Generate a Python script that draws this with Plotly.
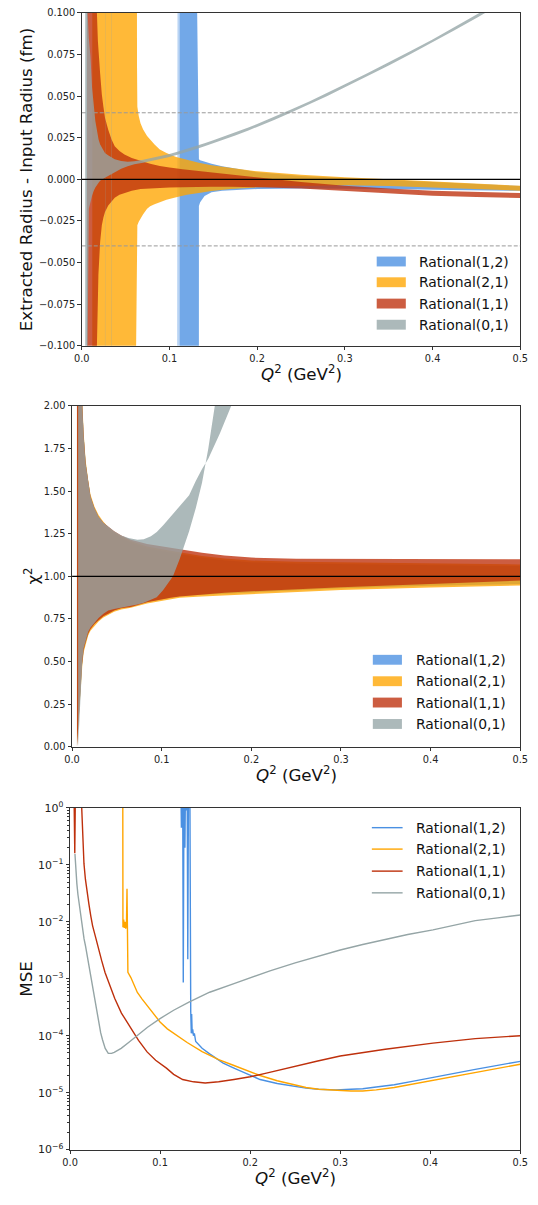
import plotly.graph_objects as go

W, H = 538, 1205
FONT = "DejaVu Sans"

# ---------------------------------------------------------------- colours
C_12 = "#4A90E2"   # Rational(1,2)
C_21 = "#FFA500"   # Rational(2,1)
C_11 = "#BE300C"   # Rational(1,1)
C_01 = "#95A5A6"   # Rational(0,1)
ALPHA = 0.78
labels = ["Rational(1,2)", "Rational(2,1)", "Rational(1,1)", "Rational(0,1)"]
colors = [C_12, C_21, C_11, C_01]

# ------------------------------------------- radius bands (fm), vs Q^2 cut
# +-1 marks a band that runs off the plotted range; None splits segments
r12_q = [0.1084, 0.1103, None,
         0.1113, 0.1335, 0.1336, 0.135, 0.14, 0.148, 0.16, 0.18, 0.20, 0.25, 0.30, 0.35,
         0.40, 0.45, 0.50]
r12_hi = [1, 1, None,
          1, 1, 0.012, 0.0115, 0.0105, 0.0093, 0.0078, 0.006, 0.0043, 0.002, 0.0007, -0.0005,
          -0.0015, -0.0028, -0.004]
r12_lo = [-1, -1, None,
          -1, -1, -0.016, -0.0138, -0.010, -0.0078, -0.0068, -0.0061, -0.0058, -0.0055, -0.0055,
          -0.0058, -0.0062, -0.0066, -0.0069]

r21_q = [0.012, 0.0616, 0.0620, 0.0627, 0.0630, 0.0634, 0.065, 0.067, 0.070, 0.0745, 0.078,
         0.083, 0.089, 0.0966, 0.1077, 0.12, 0.1335, 0.148, 0.17, 0.20, 0.25, 0.30, 0.35,
         0.40, 0.45, 0.50]
r21_hi = [1, 1, 1, 1, 0.07, 0.0436, 0.038, 0.0337, 0.030, 0.026, 0.0239,
          0.021, 0.018, 0.0159, 0.0135, 0.0117, 0.010, 0.0085, 0.0068, 0.0048, 0.0027, 0.0012,
          0.0, -0.0012, -0.0025, -0.0039]
r21_lo = [-1, -1, -0.1, -0.04, -0.032, -0.0276, -0.0255, -0.0236, -0.021, -0.0177, -0.0162,
          -0.015, -0.0138, -0.0123, -0.0108, -0.0093, -0.0082, -0.0070, -0.0058, -0.0048,
          -0.0040, -0.0036, -0.0040, -0.0049, -0.0058, -0.0068]

r11_q = [0.0060, 0.0172, 0.0173, 0.0184, 0.0190, 0.0210, 0.0229, 0.0247, 0.0265, 0.0302,
         0.034, 0.0376, 0.043, 0.0487, 0.057, 0.0671, 0.078, 0.089, 0.10, 0.115, 0.13, 0.148,
         0.17, 0.20, 0.25, 0.30, 0.35, 0.40, 0.45, 0.50]
r11_hi = [1, 1, 0.1, 0.0832, 0.077, 0.0634, 0.051, 0.0436, 0.037, 0.0298,
          0.024, 0.0199, 0.017, 0.015, 0.0128, 0.011, 0.0094, 0.008, 0.0071, 0.006, 0.005,
          0.004, 0.0027, 0.0012, -0.0016, -0.0039, -0.0055, -0.0068, -0.0076, -0.0082]
r11_lo = [-1, -1, -0.1, -0.077, -0.0573, -0.0375, -0.0276, -0.023, -0.0197, -0.0157,
          -0.013, -0.011, -0.0093, -0.0082, -0.0068, -0.0058, -0.0054, -0.0051, -0.0049,
          -0.0047, -0.0045, -0.0044, -0.0045, -0.0047, -0.0055, -0.0068, -0.0083, -0.0098,
          -0.0106, -0.0112]

r01_q = [0.0262, 0.0268, None, 0.0338, 0.0345, None,
         0.0040, 0.0066, 0.0067, 0.0081, 0.0100, 0.0118, 0.0136, 0.0155, 0.0192, 0.021,
         0.0265, 0.030, 0.0376, 0.045, 0.0524, 0.06, 0.07, 0.08, 0.09, 0.10, 0.11, 0.12,
         0.13, 0.14, 0.15, 0.16, 0.175, 0.19, 0.20, 0.22, 0.24, 0.26, 0.28, 0.30, 0.325,
         0.35, 0.375, 0.40, 0.425, 0.452, 0.475, 0.50]
r01_hi = [1, 1, None, 1, 1, None,
          1, 1, 0.1, 0.085, 0.0733, 0.055, 0.0436, 0.035, 0.0239, 0.021,
          0.0159, 0.0145, 0.012, 0.0110, 0.0105, 0.0108, 0.0117, 0.0128, 0.0140, 0.0153,
          0.0167, 0.0182, 0.0199, 0.0217, 0.0235, 0.0254, 0.0282, 0.0312, 0.0332, 0.0376,
          0.0422, 0.0469, 0.0519, 0.0571, 0.0636, 0.0702, 0.0771, 0.0841, 0.0914, 0.0994,
          0.1064, 0.1139]
r01_lo = [-1, -1, None, -1, -1, None,
          -1, -1, -0.1, -0.0177, -0.013, -0.0098, -0.007, -0.0049, -0.002, -0.0009,
          0.001, 0.002, 0.0045, 0.0064, 0.0078, 0.0090, 0.0099, 0.0110, 0.0122, 0.0135,
          0.0149, 0.0164, 0.0181, 0.0199, 0.0217, 0.0236, 0.0264, 0.0294, 0.0314, 0.0358,
          0.0404, 0.0451, 0.0501, 0.0553, 0.0618, 0.0684, 0.0753, 0.0823, 0.0896, 0.0976,
          0.1046, 0.1121]

# ------------------------------------------------------- chi^2 bands
c11_q = [0.0055, 0.0070, 0.0085, 0.0112, 0.0115, 0.013, 0.0152, 0.018, 0.0206, 0.025,
         0.0296, 0.035, 0.0404, 0.047, 0.0549, 0.0657, 0.0837, 0.0945, 0.11, 0.12, 0.145,
         0.17, 0.20, 0.25, 0.30, 0.40, 0.50]
c11_hi = [3, 3, 3, 3, 1.99, 1.82, 1.66, 1.55, 1.467, 1.40,
          1.35, 1.315, 1.29, 1.265, 1.24, 1.215, 1.19, 1.182, 1.168, 1.16, 1.138,
          1.122, 1.11, 1.103, 1.10, 1.10, 1.10]
c11_lo = [0, 0.15, 0.30, 0.49, 0.50, 0.57, 0.615, 0.665, 0.69, 0.72,
          0.742, 0.765, 0.78, 0.80, 0.812, 0.82, 0.848, 0.86, 0.875, 0.882, 0.894,
          0.903, 0.912, 0.925, 0.936, 0.955, 0.975]

c21_q = c11_q
c21_hi = [3, 3, 3, 3, 2.02, 1.84, 1.68, 1.565, 1.48, 1.41,
          1.36, 1.32, 1.29, 1.262, 1.235, 1.208, 1.175, 1.165, 1.15, 1.14, 1.12,
          1.105, 1.093, 1.085, 1.08, 1.075, 1.07]
c21_lo = [0, 0.13, 0.28, 0.47, 0.48, 0.555, 0.60, 0.652, 0.68, 0.71,
          0.735, 0.758, 0.772, 0.792, 0.805, 0.815, 0.84, 0.85, 0.865, 0.875, 0.882,
          0.888, 0.895, 0.908, 0.92, 0.935, 0.946]

c12_q = c11_q
c12_hi = [3, 3, 3, 3, 2.0, 1.83, 1.67, 1.555, 1.47, 1.40,
          1.35, 1.31, 1.28, 1.252, 1.225, 1.198, 1.165, 1.155, 1.14, 1.13, 1.11,
          1.095, 1.083, 1.075, 1.07, 1.065, 1.06]
c12_lo = [0, 0.14, 0.29, 0.48, 0.49, 0.565, 0.61, 0.66, 0.70, 0.72,
          0.745, 0.768, 0.782, 0.80, 0.815, 0.825, 0.85, 0.86, 0.875, 0.885, 0.892,
          0.898, 0.905, 0.918, 0.93, 0.945, 0.955]

c01_q = [0.0068, 0.0097, 0.0115, 0.013, 0.0152, 0.018, 0.0206, 0.025, 0.0296, 0.035,
         0.0404, 0.047, 0.0549, 0.063, 0.0729, 0.08, 0.088, 0.0945, 0.1017, 0.1126, 0.12,
         0.1306, 0.138, 0.145, 0.152, 0.159, 0.165, 0.1775, 0.19]
c01_hi = [3, 3, 1.99, 1.82, 1.66, 1.55, 1.467, 1.40, 1.35, 1.315,
          1.29, 1.265, 1.24, 1.225, 1.215, 1.218, 1.235, 1.26, 1.30, 1.37, 1.41,
          1.476, 1.56, 1.63, 1.69, 1.77, 1.84, 2.0, 2.3]
c01_lo = [0, 0.316, 0.51, 0.58, 0.626, 0.675, 0.70, 0.73, 0.755, 0.78,
          0.80, 0.808, 0.815, 0.825, 0.835, 0.845, 0.862, 0.877, 0.92, 1.0, 1.1,
          1.264, 1.4, 1.55, 1.75, 2.0, 2.2, 2.4, 2.6]

# ------------------------------------------------------------ MSE curves
m12_q = [0.1230, 0.1236, 0.1242, 0.1250, 0.1257, 0.1265, 0.1275, 0.1282, 0.1290, 0.1300,
         0.1307, 0.1315, 0.1330, 0.1340, 0.1346, 0.1350, 0.1356, 0.1362, 0.1370, 0.1380,
         0.1395, 0.1466, 0.155, 0.161, 0.17, 0.182, 0.20, 0.211, 0.23, 0.247, 0.262, 0.276,
         0.295, 0.312, 0.325, 0.34, 0.36, 0.38, 0.403, 0.45, 0.5]
m12_v = [3, 0.45, 3, 3, 8.6e-4, 3, 0.2, 3, 0.9, 3,
         2.2e-3, 3, 3, 2.6e-4, 1.1e-4, 2.4e-4, 1.1e-4, 1.3e-4, 1.0e-4, 1.1e-4,
         7.9e-5, 6.0e-5, 4.8e-5, 4.1e-5, 3.3e-5, 2.7e-5, 2.0e-5, 1.7e-5, 1.45e-5, 1.32e-5,
         1.2e-5, 1.15e-5, 1.12e-5, 1.15e-5, 1.17e-5, 1.26e-5, 1.38e-5, 1.58e-5, 1.86e-5,
         2.57e-5, 3.55e-5]

m21_q = [0.0585, 0.0587, 0.0595, 0.0603, 0.0610, 0.0618, 0.0626, 0.0632, 0.0636, 0.0642,
         0.0675, 0.071, 0.0747, 0.08, 0.0855, 0.092, 0.0999, 0.108, 0.1178, 0.13, 0.1466,
         0.165, 0.182, 0.20, 0.211, 0.23, 0.247, 0.262, 0.276, 0.295, 0.312, 0.325, 0.34,
         0.36, 0.38, 0.403, 0.45, 0.5]
m21_v = [3, 8e-3, 1.1e-2, 7.8e-3, 1.0e-2, 7.6e-3, 9e-3, 0.038, 7e-3, 1.3e-3,
         1.05e-3, 7.6e-4, 5.75e-4, 4.4e-4, 3.4e-4, 2.5e-4, 1.74e-4, 1.32e-4, 1.02e-4, 7.6e-5,
         5.25e-5, 3.8e-5, 3.0e-5, 2.35e-5, 2.0e-5, 1.62e-5, 1.38e-5, 1.23e-5, 1.15e-5, 1.1e-5,
         1.07e-5, 1.07e-5, 1.12e-5, 1.23e-5, 1.41e-5, 1.66e-5, 2.3e-5, 3.16e-5]

m11_q = [0.0042, 0.0052, 0.0060, 0.0125, 0.0129, 0.014, 0.0154, 0.017, 0.0185, 0.0208,
         0.023, 0.025, 0.028, 0.031, 0.035, 0.0388, 0.044, 0.0496, 0.057, 0.0675, 0.076,
         0.0855, 0.095, 0.107, 0.115, 0.125, 0.137, 0.150, 0.165, 0.182, 0.20, 0.218, 0.25,
         0.275, 0.3, 0.35, 0.403, 0.45, 0.5]
m11_v = [3, 0.16, 3, 3, 1.0, 0.282, 0.105, 0.056, 0.034, 0.0209,
         0.0126, 8.5e-3, 5.6e-3, 3.5e-3, 2.1e-3, 1.29e-3, 7.6e-4, 4.5e-4, 2.5e-4, 1.35e-4,
         8.3e-5, 5.2e-5, 3.7e-5, 2.7e-5, 2.1e-5, 1.7e-5, 1.55e-5, 1.48e-5, 1.55e-5, 1.7e-5,
         1.9e-5, 2.2e-5, 2.95e-5, 3.6e-5, 4.4e-5, 5.8e-5, 7.4e-5, 8.9e-5, 1.0e-4]

m01_q = [0.0054, 0.0065, 0.0075, 0.0087, 0.010, 0.0115, 0.0135, 0.0155, 0.0172, 0.019,
         0.0205, 0.0225, 0.0244, 0.026, 0.028, 0.030, 0.0316, 0.034, 0.036, 0.039, 0.0424,
         0.046, 0.049, 0.053, 0.0567, 0.065, 0.0747, 0.086, 0.0999, 0.115, 0.132, 0.155,
         0.182, 0.20, 0.222, 0.25, 0.275, 0.3, 0.325, 0.35, 0.375, 0.403, 0.425, 0.45,
         0.475, 0.5]
m01_v = [0.155, 0.0708, 0.0468, 0.0302, 0.0209, 0.0135, 7.6e-3, 5.0e-3, 3.7e-3, 2.5e-3,
         1.82e-3, 1.26e-3, 8.7e-4, 6.3e-4, 3.7e-4, 2.4e-4, 1.74e-4, 1.12e-4, 8.5e-5, 6.0e-5,
         4.9e-5, 4.9e-5, 5.1e-5, 5.5e-5, 6.0e-5, 7.6e-5, 1.02e-4, 1.41e-4, 2.0e-4, 2.8e-4,
         3.9e-4, 5.8e-4, 8.2e-4, 1.05e-3, 1.38e-3, 1.9e-3, 2.5e-3, 3.2e-3, 4.0e-3, 4.9e-3,
         6.0e-3, 7.2e-3, 8.7e-3, 1.05e-2, 1.17e-2, 1.32e-2]

# ------------------------------------------------------------ ticks
x_ticks = [0.0, 0.1, 0.2, 0.3, 0.4, 0.5]
r_ticks = [-0.1, -0.075, -0.05, -0.025, 0.0, 0.025, 0.05, 0.075, 0.1]
c_ticks = [0.0, 0.25, 0.5, 0.75, 1.0, 1.25, 1.5, 1.75, 2.0]
m_exps = [-6, -5, -4, -3, -2, -1, 0]


def rgba(hex_color, a):
    h = hex_color.lstrip("#")
    r, g, b = int(h[0:2], 16), int(h[2:4], 16), int(h[4:6], 16)
    return f"rgba({r},{g},{b},{a})"


def band_polygon(q, lo, hi):
    """Closed outline(s) lo -> hi for a band; None splits separate pieces."""
    xs, ys = [], []
    seg = []
    for item in list(zip(q, lo, hi)) + [(None, None, None)]:
        if item[0] is None:
            if seg:
                sq = [s[0] for s in seg]
                sl = [s[1] for s in seg]
                sh = [s[2] for s in seg]
                if xs:
                    xs.append(None)
                    ys.append(None)
                xs += sq + sq[::-1]
                ys += sl + sh[::-1]
            seg = []
        else:
            seg.append(item)
    return xs, ys


def px_x(px):
    return px / W


def px_y(py):
    return 1 - py / H


fig = go.Figure()

radius_bands = [(r12_q, r12_lo, r12_hi), (r21_q, r21_lo, r21_hi),
                (r11_q, r11_lo, r11_hi), (r01_q, r01_lo, r01_hi)]
chi_bands = [(c12_q, c12_lo, c12_hi), (c21_q, c21_lo, c21_hi),
             (c11_q, c11_lo, c11_hi), (c01_q, c01_lo, c01_hi)]
mse_lines = [(m12_q, m12_v), (m21_q, m21_v), (m11_q, m11_v), (m01_q, m01_v)]

for (q, lo, hi), col in zip(radius_bands, colors):
    xs, ys = band_polygon(q, lo, hi)
    fig.add_trace(go.Scatter(x=xs, y=ys, mode="lines", fill="toself",
                             fillcolor=rgba(col, ALPHA), line=dict(width=0),
                             hoverinfo="skip", showlegend=False, xaxis="x", yaxis="y"))

for (q, lo, hi), col in zip(chi_bands, colors):
    xs, ys = band_polygon(q, lo, hi)
    fig.add_trace(go.Scatter(x=xs, y=ys, mode="lines", fill="toself",
                             fillcolor=rgba(col, ALPHA), line=dict(width=0),
                             hoverinfo="skip", showlegend=False, xaxis="x2", yaxis="y2"))

for (q, v), col in zip(mse_lines, colors):
    fig.add_trace(go.Scatter(x=q, y=v, mode="lines", line=dict(color=col, width=1.4),
                             hoverinfo="skip", showlegend=False, xaxis="x3", yaxis="y3"))

# subplot boxes in pixels: (left, right, top, bottom)
boxes = [(76, 528, 5, 342), (66, 528, 403, 748), (64, 528, 810, 1156)]

axis_common = dict(showline=True, linecolor="#333", linewidth=1, mirror=True,
                   ticks="outside", ticklen=3.5, tickwidth=1, tickcolor="#333",
                   showgrid=False, zeroline=False,
                   tickfont=dict(family=FONT, size=9.8, color="#222"))

layout_axes = {}
for i, (l, r, t, b) in enumerate(boxes):
    sfx = "" if i == 0 else str(i + 1)
    layout_axes["xaxis" + sfx] = dict(
        axis_common, domain=[px_x(l), px_x(r)], range=[0, 0.5],
        tickvals=x_ticks, tickformat=".1f", anchor="y" + sfx)
    layout_axes["yaxis" + sfx] = dict(
        axis_common, domain=[px_y(b), px_y(t)], anchor="x" + sfx)

layout_axes["yaxis"].update(range=[-0.1, 0.1], tickvals=r_ticks, tickformat=".3f")
layout_axes["yaxis2"].update(range=[0, 2], tickvals=c_ticks, tickformat=".2f")
minor_vals = [k * 10.0 ** e for e in m_exps[:-1] for k in range(2, 10)]
layout_axes["yaxis3"].update(
    type="log", range=[-6, 0],
    tickvals=[10.0 ** e for e in m_exps],
    ticktext=[f"10<sup>{'−' if e < 0 else ''}{abs(e)}</sup>" for e in m_exps],
    tickfont=dict(family=FONT, size=11, color="#222"),
    minor=dict(ticks="outside", ticklen=2, tickcolor="#333", tickvals=minor_vals))

fig.update_layout(
    width=W, height=H, margin=dict(l=0, r=0, t=0, b=0),
    paper_bgcolor="white", plot_bgcolor="white",
    font=dict(family=FONT, color="#222"),
    **layout_axes,
)

# reference lines
fig.add_shape(type="line", xref="x", yref="y", x0=0, x1=0.5, y0=0, y1=0,
              line=dict(color="black", width=1.1))
for yv in (0.04, -0.04):
    fig.add_shape(type="line", xref="x", yref="y", x0=0, x1=0.5, y0=yv, y1=yv,
                  line=dict(color="#999", width=1, dash="4px,2px"))
fig.add_shape(type="line", xref="x2", yref="y2", x0=0, x1=0.5, y0=1, y1=1,
              line=dict(color="black", width=1.1))

# axis titles
TITLE = dict(family=FONT, size=16.7, color="#111")
xlab = "<i>Q</i><sup>2</sup> (GeV<sup>2</sup>)"
for (l, r, t, b) in boxes:
    fig.add_annotation(xref="paper", yref="paper", x=px_x((l + r) / 2), y=px_y(b + 28),
                       text=xlab, showarrow=False, font=TITLE,
                       xanchor="center", yanchor="middle")
ylabs = [("Extracted Radius - Input Radius (fm)", 18.5), ("χ<sup>2</sup>", 25), ("MSE", 18.5)]
for (txt, cx), (l, r, t, b) in zip(ylabs, boxes):
    fig.add_annotation(xref="paper", yref="paper", x=px_x(cx), y=px_y((t + b) / 2),
                       text=txt, textangle=-90, showarrow=False, font=TITLE,
                       xanchor="center", yanchor="middle")

# legends
LEG = dict(family=FONT, size=13.9, color="#111")
legend_specs = [
    ("patch", 380, 410, 421.7, [256.7, 277.7, 299.3, 320.7]),
    ("patch", 376, 406, 418, [660, 681.7, 703.3, 725]),
    ("line", 375, 406.7, 418, [830, 851.7, 874, 896]),
]
for kind, x0, x1, tx, rows in legend_specs:
    for lab, col, ry in zip(labels, colors, rows):
        if kind == "patch":
            fig.add_shape(type="rect", xref="paper", yref="paper",
                          x0=px_x(x0), x1=px_x(x1), y0=px_y(ry + 5), y1=px_y(ry - 5),
                          fillcolor=rgba(col, ALPHA), line=dict(width=0))
        else:
            fig.add_shape(type="line", xref="paper", yref="paper",
                          x0=px_x(x0), x1=px_x(x1), y0=px_y(ry), y1=px_y(ry),
                          line=dict(color=col, width=1.4))
        fig.add_annotation(xref="paper", yref="paper", x=px_x(tx), y=px_y(ry),
                           text=lab, showarrow=False, font=LEG,
                           xanchor="left", yanchor="middle")

fig.write_html("out.html")
